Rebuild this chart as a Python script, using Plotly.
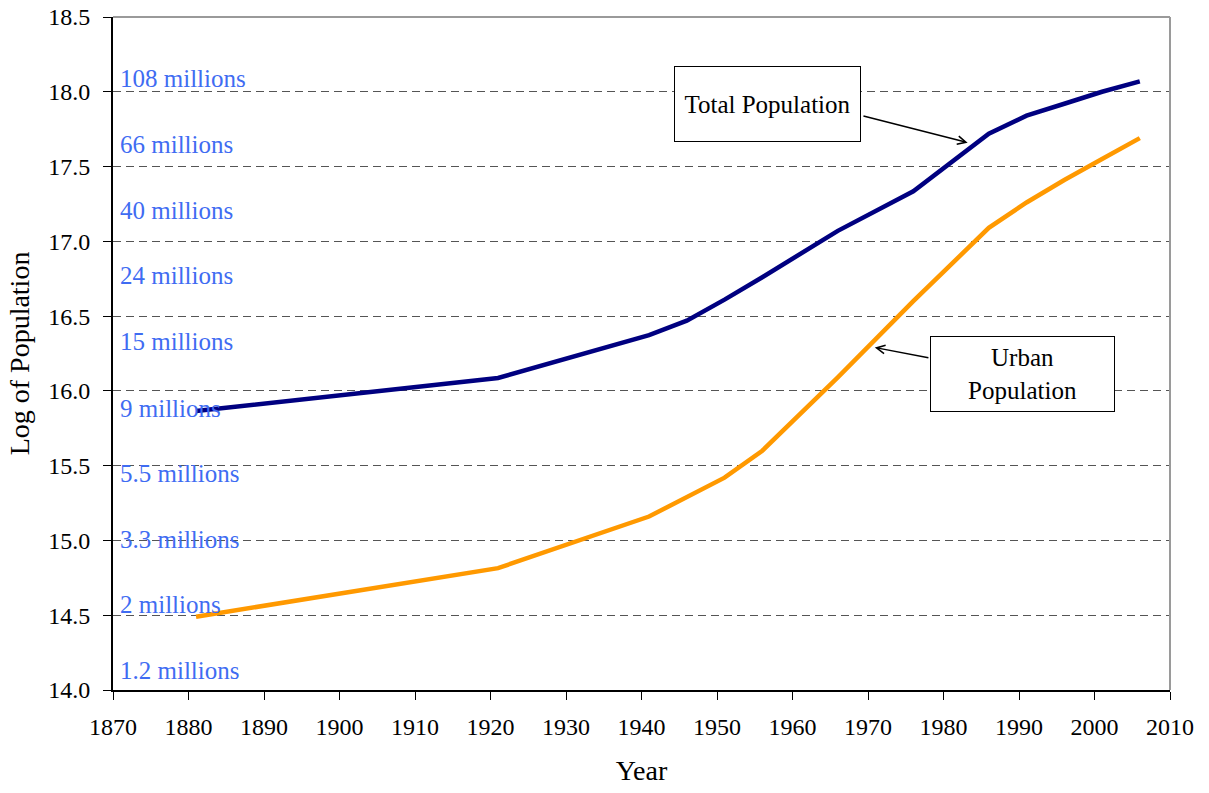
import plotly.graph_objects as go

years = [1881, 1921, 1941, 1946, 1951, 1956, 1966, 1976, 1986, 1991, 1996, 2001, 2006]
total_log = [15.865, 16.086, 16.373, 16.47, 16.61, 16.76, 17.07, 17.335, 17.72, 17.84, 17.92, 18.0, 18.07]
urban_log = [14.49, 14.815, 15.16, 15.29, 15.42, 15.60, 16.09, 16.60, 17.09, 17.26, 17.41, 17.55, 17.69]

million_labels = ["108 millions", "66 millions", "40 millions", "24 millions", "15 millions",
                  "9 millions", "5.5 millions", "3.3 millions", "2 millions", "1.2 millions"]
million_label_y = [18.09, 17.645, 17.205, 16.77, 16.33, 15.885, 15.445, 15.005, 14.57, 14.13]

x_ticks = list(range(1870, 2011, 10))
y_ticks = [14.0 + 0.5 * i for i in range(10)]

FONT = "Liberation Serif"
BLUE = "#3F6CF2"

fig = go.Figure()
fig.add_trace(go.Scatter(x=years, y=total_log, mode="lines", name="Total Population",
                         line=dict(color="#000080", width=4.5)))
fig.add_trace(go.Scatter(x=years, y=urban_log, mode="lines", name="Urban Population",
                         line=dict(color="#FF9900", width=4.5)))

annotations = []
for txt, yv in zip(million_labels, million_label_y):
    annotations.append(dict(x=1870.7, y=yv, xref="x", yref="y", text=txt, showarrow=False,
                            xanchor="left", yanchor="middle",
                            font=dict(family=FONT, size=25, color=BLUE)))

# Text boxes
annotations.append(dict(x=1956.75, y=17.915, xref="x", yref="y", text="Total Population",
                        showarrow=False, xanchor="center", yanchor="middle",
                        font=dict(family=FONT, size=25, color="black"),
                        bordercolor="black", borderwidth=1, bgcolor="white",
                        width=183, height=72))
annotations.append(dict(x=1990.5, y=16.11, xref="x", yref="y", text="Urban<br>Population",
                        showarrow=False, xanchor="center", yanchor="middle",
                        font=dict(family=FONT, size=25, color="black"),
                        bordercolor="black", borderwidth=1, bgcolor="white",
                        width=181, height=72))
# Arrows
annotations.append(dict(x=1983.2, y=17.66, ax=1969.2, ay=17.84, xref="x", yref="y",
                        axref="x", ayref="y", text="", showarrow=True, arrowhead=5,
                        arrowsize=1.1, arrowwidth=1.5, arrowcolor="black"))
annotations.append(dict(x=1970.9, y=16.29, ax=1978.2, ay=16.22, xref="x", yref="y",
                        axref="x", ayref="y", text="", showarrow=True, arrowhead=5,
                        arrowsize=1.1, arrowwidth=1.5, arrowcolor="black"))

fig.update_layout(
    width=1209, height=793,
    margin=dict(l=113, r=39, t=17, b=103),
    paper_bgcolor="white", plot_bgcolor="white",
    showlegend=False,
    font=dict(family=FONT, color="black"),
    annotations=annotations,
    shapes=[
        dict(type="line", xref="paper", yref="paper", x0=0, x1=1, y0=1, y1=1,
             line=dict(color="#9a9a9a", width=2), layer="above"),
        dict(type="line", xref="paper", yref="paper", x0=1, x1=1, y0=0, y1=1,
             line=dict(color="#9a9a9a", width=2), layer="above"),
    ],
    xaxis=dict(range=[1870, 2010], tickvals=x_ticks, ticktext=[str(v) for v in x_ticks],
               showgrid=False, zeroline=False, showline=True, linecolor="black", linewidth=2,
               ticks="outside", ticklen=8, tickcolor="black", tickwidth=1, automargin=False,
               ticklabeloverflow="allow",
               tickfont=dict(family=FONT, size=24), ticklabelstandoff=6,
               title=dict(text="Year", font=dict(family=FONT, size=28), standoff=22)),
    yaxis=dict(range=[14.0, 18.5], tickvals=y_ticks, ticktext=[f"{v:.1f}" for v in y_ticks],
               showgrid=True, gridcolor="#555555", gridwidth=1, griddash="8px,5px",
               zeroline=False, showline=True, linecolor="black", linewidth=2,
               ticks="outside", ticklen=8, tickcolor="black", tickwidth=1, automargin=False,
               ticklabeloverflow="allow",
               tickfont=dict(family=FONT, size=24), ticklabelstandoff=8,
               title=dict(text="Log of Population", font=dict(family=FONT, size=28), standoff=10)),
)

fig.write_html("out.html", config={"displayModeBar": False},
               post_script="document.body.style.margin='0';document.body.style.overflow='hidden';")
